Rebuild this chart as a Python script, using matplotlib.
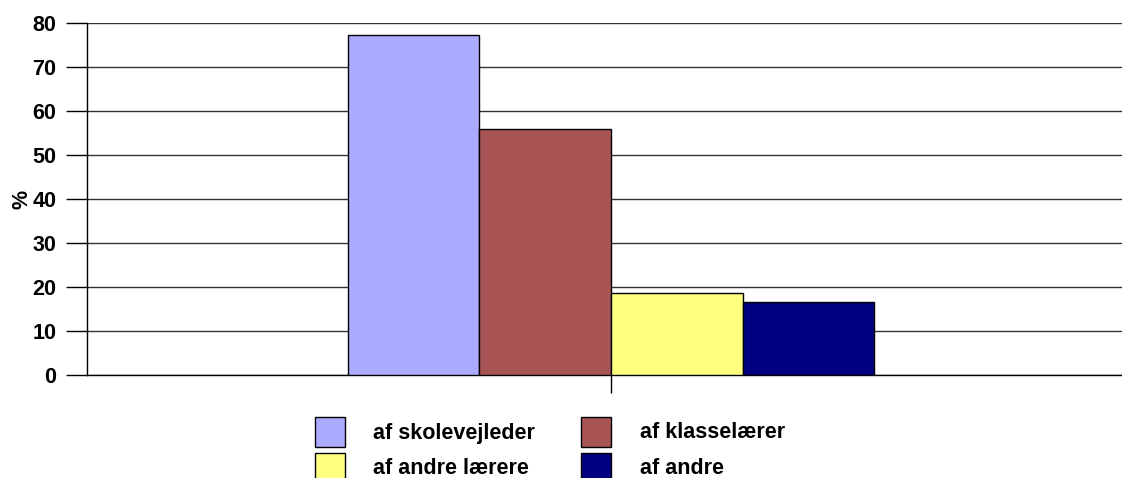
import matplotlib
matplotlib.use("Agg")
import matplotlib.pyplot as plt
from matplotlib.patches import Rectangle

categories = ["af skolevejleder", "af klasselærer", "af andre lærere", "af andre"]
values = [77.2, 56.0, 18.7, 16.7]
colors = ["#aaaaff", "#aa5555", "#ffff80", "#000080"]
yticks = [0, 10, 20, 30, 40, 50, 60, 70, 80]

plt.rcParams['font.family'] = ['Liberation Sans', 'DejaVu Sans']
FS = 15.5

W, H = 1122, 478
fig = plt.figure(figsize=(W / 100, H / 100), dpi=100)
left, right, top, bottom = 87, 1135, 23, 375
ax = fig.add_axes([left / W, 1 - bottom / H, (right - left) / W, (bottom - top) / H])

width = 0.1255
n = len(values)
for i, (v, c) in enumerate(zip(values, colors)):
    x = (i - (n - 1) / 2) * width
    ax.bar(x, v, width=width, color=c, edgecolor="black", linewidth=1.0, zorder=3)

ax.set_xlim(-0.5, 0.5)
ax.set_ylim(0, 80)
ax.set_yticks(yticks)
ax.set_yticklabels([str(t) for t in yticks], fontsize=FS, fontweight="bold")
ax.set_xticks([0])
ax.set_xticklabels([""])
ax.tick_params(axis="y", length=15, width=1, color="black", pad=7)
ax.tick_params(axis="x", length=13, width=1, color="black")
ax.yaxis.grid(True, color="#333333", linewidth=1)
ax.set_axisbelow(True)
for s in ["top", "right"]:
    ax.spines[s].set_visible(False)
ax.spines["left"].set_linewidth(1)
ax.spines["bottom"].set_linewidth(1)
ax.set_ylabel("%", fontsize=FS, fontweight="bold", labelpad=0)

# legend drawn manually in figure pixel coordinates
def px_rect(x0, y0, w, h, color):
    r = Rectangle((x0 / W, 1 - (y0 + h) / H), w / W, h / H, transform=fig.transFigure,
                  facecolor=color, edgecolor="black", linewidth=1, clip_on=False)
    fig.add_artist(r)

pos = [(315, 417), (581, 417), (315, 453), (581, 453)]
text_x = [373, 640, 373, 640]
for (bx, by), tx, lab, c in zip(pos, text_x, categories, colors):
    px_rect(bx, by, 30, 30, c)
    fig.text(tx / W, 1 - (by + 16) / H, lab, fontsize=FS, fontweight="bold",
             va="center", ha="left")

fig.savefig("out.png", dpi=100)
